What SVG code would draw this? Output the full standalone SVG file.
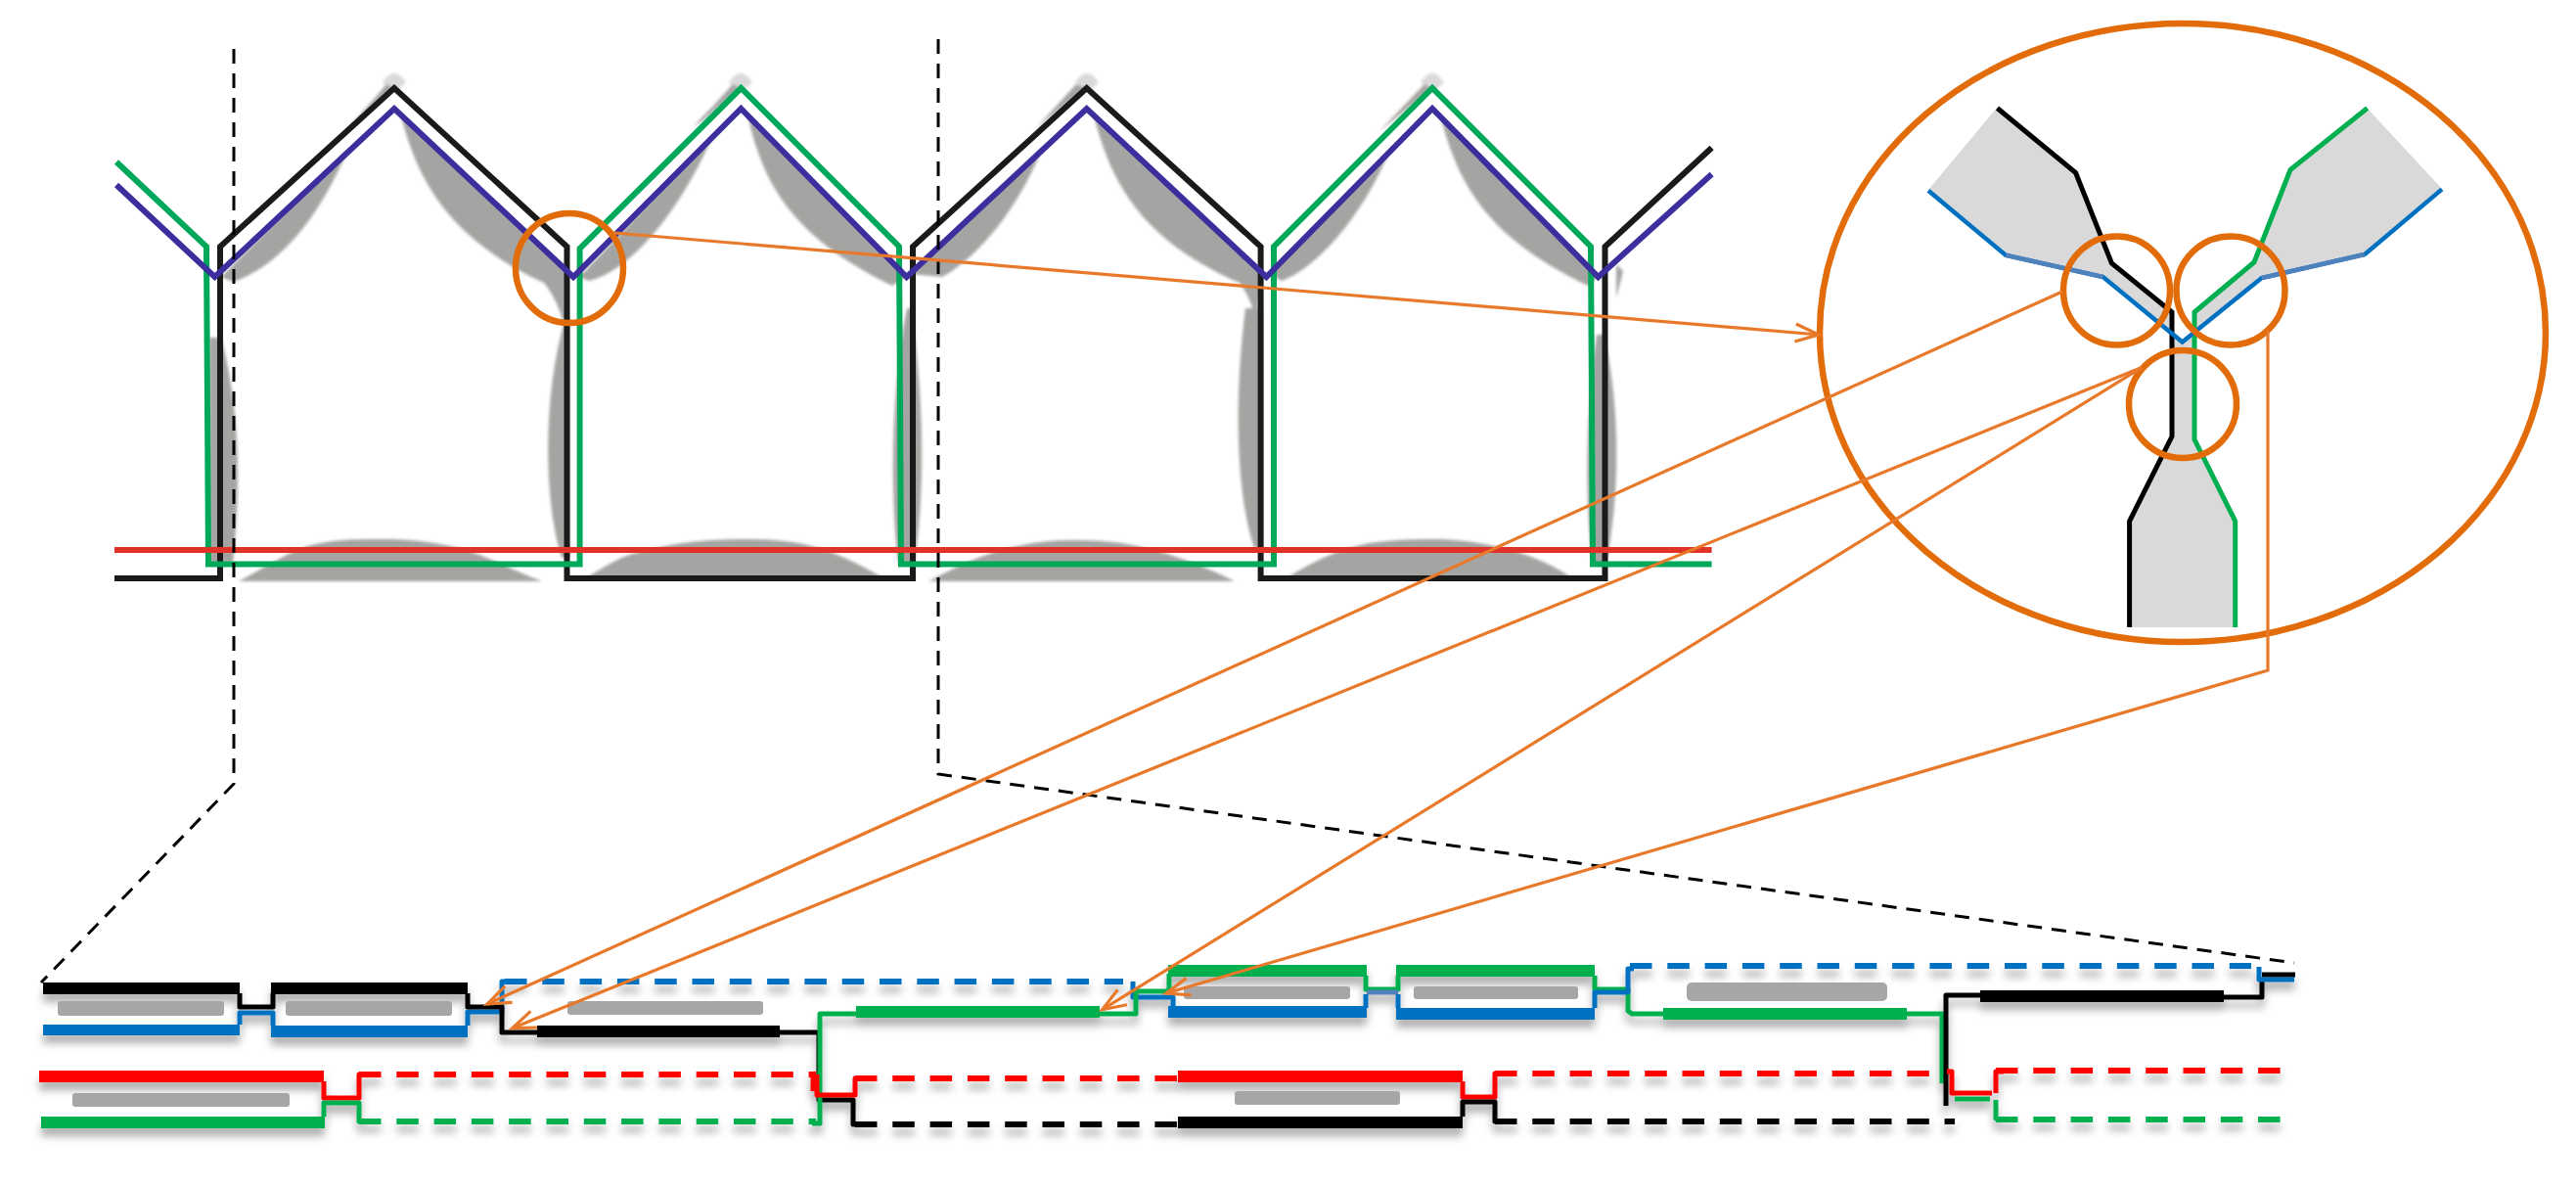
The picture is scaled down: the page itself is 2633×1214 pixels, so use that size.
<svg xmlns="http://www.w3.org/2000/svg" width="2633" height="1214" viewBox="0 0 2633 1214">
<style>
.g{fill:#A4A5A2}
.gl{fill:#DADADA}
.t{fill:none;stroke-width:6;stroke-linejoin:miter}
.k{stroke:#1A1A1A}.tg{stroke:#00A85A}.p{stroke:#3D2E9E}.r{stroke:#E03226}
.o{fill:none;stroke:#E36C0A;stroke-width:6.5}
.ol{fill:none;stroke:#E9792A;stroke-width:3.2}
.d{fill:none;stroke:#000;stroke-width:3;stroke-dasharray:15 10}
.a{fill:none;stroke-width:5;stroke-linejoin:round}
.sl{fill:#A6A6A6}
.dash{fill:none;stroke-width:6;stroke-dasharray:22.5 15.8}
.K{stroke:#000}.B{stroke:#0070C0}.G{stroke:#00B050}.R{stroke:#F00}
</style>
<defs>
<filter id="soft" filterUnits="userSpaceOnUse" x="0" y="0" width="2633" height="800"><feGaussianBlur stdDeviation="1.6"/></filter>
<filter id="sh" filterUnits="userSpaceOnUse" x="0" y="950" width="2633" height="264"><feDropShadow dx="0" dy="8" stdDeviation="4" flood-color="#000" flood-opacity="0.32"/></filter>
<marker id="ah" markerUnits="userSpaceOnUse" markerWidth="40" markerHeight="40" refX="30" refY="20" orient="auto" overflow="visible"><path d="M6,11 L30,20 L6,29" fill="none" stroke="#E9792A" stroke-width="3.2"/></marker>
</defs>
<rect width="2633" height="1214" fill="#fff"/>

<g id="wave-section">
<g filter="url(#soft)">
<path class="gl" d="M391,84Q403,66 415,84L407,92H399ZM745,84Q757,66 769,84L761,92H753ZM1099,84Q1111,66 1123,84L1115,92H1107ZM1452,84Q1464,66 1476,84L1468,92H1460Z"/>
<path class="g" d="M226,283L238,288C285,272 325,225 356,152Z"/>
<path class="g" d="M395,86Q375,110 350,137L360,128L403,90Z"/>
<path class="g" d="M409,116C425,175 450,240 556,289C565,300 572,315 576,330L580,330L580,277Z"/>
<path class="g" d="M592,283L602,287C650,275 700,205 728,140Z"/>
<path class="g" d="M749,86Q730,108 708,130L720,122L757,90Z"/>
<path class="g" d="M764,118C780,185 805,240 912,292L926,283Z"/>
<path class="g" d="M930,280L963,283C1000,262 1040,215 1066,150Z"/>
<path class="g" d="M1100,86Q1080,108 1058,132L1070,122L1110,90Z"/>
<path class="g" d="M1118,118C1135,185 1165,245 1267,289C1275,300 1282,315 1284,330L1290,280Z"/>
<path class="g" d="M1298,280L1310,287C1350,272 1395,215 1420,155Z"/>
<path class="g" d="M1456,86Q1435,108 1410,134L1425,122L1464,90Z"/>
<path class="g" d="M1472,118C1490,185 1515,240 1623,292L1633,283Z"/>
<path class="g" d="M1652,270L1659,277L1652,305Z"/>
<path class="g" d="M214,345C214,440 214,520 214,575L238,575C246,500 246,420 226,345Z"/>
<path class="g" d="M578,325C555,400 555,510 574,570L582,570L582,325Z"/>
<path class="g" d="M927,315C910,400 910,510 918,575L935,575C945,500 945,420 932,315Z"/>
<path class="g" d="M1273,315C1262,400 1262,500 1282,560L1290,560L1290,315Z"/>
<path class="g" d="M1632,342C1620,420 1620,520 1628,576L1642,576C1656,500 1656,420 1640,342Z"/>
<path class="g" d="M244,594C280,575 300,560 327,555C350,550 380,551 401,551C430,552 460,556 482,564C510,574 530,585 554,594Z"/>
<path class="g" d="M600,590C620,578 635,568 654,564C690,554 725,551 757,551C785,551 805,552 826,557C860,566 880,578 902,590Z"/>
<path class="g" d="M949,594C985,575 1020,558 1072,553C1095,551 1125,552 1147,555C1190,562 1230,578 1262,594Z"/>
<path class="g" d="M1316,590C1340,575 1365,562 1399,555C1425,551 1450,551 1474,551C1520,553 1570,565 1606,590Z"/>
</g>
<path class="t k" d="M117,591H225V252L403,90L579.5,252V591H933V252L1110.7,90L1288.6,252V591H1640.5V252L1749.6,151"/>
<path class="t tg" d="M119,165.5L211,252L213,576.5H592.6V254L757.4,90L919,252L921,576.5H1302V252L1464,90L1626,252L1628,576.5H1749.6"/>
<path class="t r" d="M117,562H1749.6"/>
<path class="t p" d="M119,189L219.5,283L403,111L586,283L757.4,111L926.7,283L1110.7,111L1294.4,283L1464,111L1633.6,283L1749.6,178"/>
</g>

<g id="junction-detail">
<path fill="#D9D9D9" d="M2041,110L2121,176L2158,269L2220,319V446L2176,532V641H2284V532L2243,449V319L2304,268L2341,173L2419,110L2496,193L2417,260L2311,284L2230,349L2149,283L2050,260L1971,194Z"/>
<path fill="none" stroke="#000" stroke-width="5" d="M2041.5,110.5L2121.6,176.6L2158.4,269L2220,319V446L2176.6,532.6V641"/>
<path fill="none" stroke="#00B050" stroke-width="5" d="M2419.7,110.5L2341,173.6L2304,268L2243,319V449L2284.7,532.6V641"/>
<path fill="none" stroke="#0070C0" stroke-width="4.5" d="M1971,194.7L2050,260.7L2149.6,283L2230.6,349.5L2311.7,284L2417,260L2496,193.4"/>
<path fill="none" stroke="#4F81BD" stroke-width="4.5" d="M2050,260.7L2149.6,283M2311.7,284L2417,260"/>
</g>

<g id="lower-schematic" filter="url(#sh)">
<g id="bars">
<rect x="44" y="1004" width="201" height="12"/><rect x="277" y="1004" width="201" height="12"/>
<rect x="549" y="1048" width="248" height="12"/><rect x="2024" y="1012" width="249" height="12"/>
<rect x="1204" y="1141" width="291" height="12"/>
<g fill="#0070C0"><rect x="44" y="1047" width="201" height="11"/><rect x="277" y="1048" width="201" height="12"/><rect x="1194" y="1028" width="203" height="12"/><rect x="1427" y="1030" width="203" height="12"/></g>
<g fill="#00B050"><rect x="875" y="1028" width="249" height="12"/><rect x="1194" y="986" width="203" height="12"/><rect x="1427" y="986" width="203" height="12"/><rect x="1700" y="1030" width="249" height="12"/><rect x="42" y="1141" width="290" height="12"/></g>
<g fill="#F00"><rect x="40" y="1094" width="291" height="12"/><rect x="1204" y="1094" width="291" height="12"/></g>
</g>

<g id="dashes">
<path class="dash B" d="M516,1003H1148"/>
<path class="dash B" d="M1666,987H2301"/>
<path class="dash R" d="M367,1098H834"/>
<path class="dash R" d="M874,1102H1204"/>
<path class="dash R" d="M1528,1097H1986"/>
<path class="dash R" d="M2040,1094H2345"/>
<path class="dash G" d="M367,1146H834"/>
<path class="dash G" d="M2040,1144H2332"/>
<path class="dash K" d="M874,1149H1204"/>
<path class="dash K" d="M1528,1146H1998"/>
</g>

<g id="connectors">
<path class="a B" d="M245,1047V1035H279V1048"/>
<path class="a K" d="M245,1015V1029H279V1015"/>
<path class="a B" d="M478,1048V1034H513V1003H520"/>
<path class="a K" d="M478,1015V1029H513V1055H549"/>
<path class="a K" d="M797,1055H837V1124H872V1149H880"/>
<path class="a G" d="M875,1036H838V1148H830"/>
<path class="a R" d="M831,1098V1115M835,1098V1119H874V1102H882"/>
<path class="a B" d="M1158,1003V1019H1199V1030"/>
<path class="a G" d="M1124,1036H1161V1013H1195V995"/>
<path class="a G" d="M1396,997V1011H1429V997"/>
<path class="a" stroke="#4F81BD" d="M1397,1014H1429"/>
<path class="a B" d="M1396,1030V1016M1429,1030V1016"/>
<path class="a G" d="M1630,997V1011H1664V1033L1668,1036H1700"/>
<path class="a B" d="M1630,1030V1014H1664V990H1670"/>
<path class="a G" d="M1948,1036H1985V1107"/>
<path class="a K" d="M1989,1130V1017H2024"/>
<path class="a K" d="M2273,1019H2312V1003"/>
<path class="a B" d="M2309,988V1001H2345"/>
<path class="a K" d="M2312,996H2346"/>
<path class="a R" d="M331,1105V1122H367V1098H374"/>
<path class="a G" d="M331,1141V1127H367V1146H374"/>
<path class="a R" d="M1495,1105V1121H1528V1097H1536"/>
<path class="a K" d="M1495,1141V1126H1528V1146H1536"/>
<path class="a R" d="M1990,1095H1995V1117H2036M2040,1117V1095H2048"/>
<path class="a G" d="M1998,1123H2034M2040,1124V1143L2043,1144H2052"/>
</g>
</g>
<g id="labels-blocks">
<rect class="sl" x="59" y="1023" width="170" height="15" rx="3"/>
<rect class="sl" x="292" y="1023" width="170" height="15" rx="3"/>
<rect class="sl" x="580" y="1023" width="200" height="14" rx="3"/>
<rect class="sl" x="1210" y="1008" width="170" height="13" rx="3"/>
<rect class="sl" x="1445" y="1008" width="168" height="13" rx="3"/>
<rect class="sl" x="1724" y="1004" width="205" height="19" rx="5"/>
<rect class="sl" x="74" y="1117" width="222" height="14" rx="3"/>
<rect class="sl" x="1262" y="1115" width="169" height="14" rx="3"/>
</g>

<g id="guides">
<path class="d" d="M239,50V801L42,1004"/>
<path class="d" d="M959,40V791L2345,984"/>
<ellipse class="o" cx="582" cy="274" rx="55" ry="56"/>
<ellipse class="o" cx="2231" cy="340" rx="371" ry="316"/>
<ellipse class="o" cx="2163.5" cy="297" rx="54.5" ry="55.5"/>
<ellipse class="o" cx="2280" cy="297" rx="55.5" ry="55.5"/>
<ellipse class="o" cx="2231" cy="413" rx="55" ry="55"/>
<path class="ol" marker-end="url(#ah)" d="M628,238L1859,342"/>
<path class="ol" marker-end="url(#ah)" d="M2108,298L498,1026"/>
<path class="ol" marker-end="url(#ah)" d="M2189,375.6L523.5,1050.7"/>
<path class="ol" marker-end="url(#ah)" d="M2189,375.6L1126.7,1031.7"/>
<path class="ol" marker-end="url(#ah)" d="M2318,338V685L1192,1015"/>
</g>
</svg>
